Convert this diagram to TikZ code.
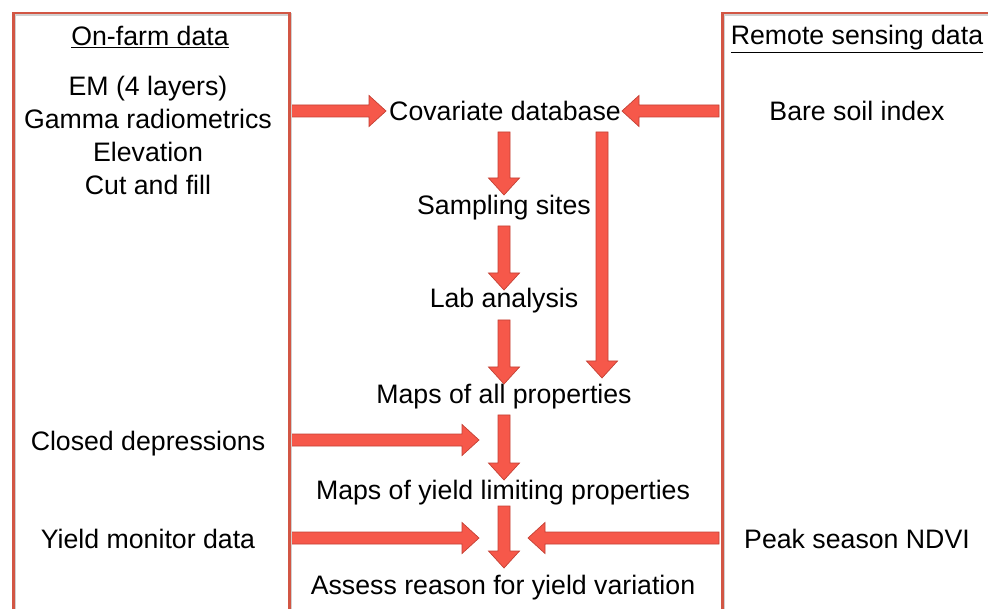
\documentclass[tikz,border=0pt]{standalone}
\usepackage{fontspec}
\setmainfont{Liberation Sans}
\usetikzlibrary{calc}
\definecolor{panelred}{RGB}{210,86,68}
\definecolor{arrowfill}{RGB}{246,88,74}
\definecolor{arrowline}{RGB}{196,64,52}
\tikzset{
  lbl/.style={anchor=base, inner sep=0pt, font=\fontsize{26.7}{32}\selectfont},
  panel/.style={draw=panelred, line width=2.5pt, inner sep=0pt,
    preaction={draw=black!18, line width=2.5pt, transform canvas={shift={(1.2pt,-1.2pt)}}}},
  blockarrow/.style={fill=arrowfill, draw=arrowline, line width=0.7pt, line join=miter},
}
\newcommand\barrow[2]{%
  \path[blockarrow] let \p1=(#1), \p2=(#2),
    \n1={atan2(\y2-\y1,\x2-\x1)}, \n2={veclen(\x2-\x1,\y2-\y1)} in
    [shift={(\p1)}, rotate=\n1]
    (0pt,-6pt) -- (\n2*1pt-17pt,-6pt) -- (\n2*1pt-17pt,-15.5pt) -- (\n2*1pt,0pt)
    -- (\n2*1pt-17pt,15.5pt) -- (\n2*1pt-17pt,6pt) -- (0pt,6pt) -- cycle;}
\begin{document}
\begin{tikzpicture}[x=1pt,y=-1pt]
\clip (0,0) rectangle (988,609);
\fill[white] (0,0) rectangle (988,609);

% text nodes
\node[lbl] (onfarm) at (150,46) {\underline{On-farm data}};
\node[lbl] (em) at (148,96) {EM (4 layers)};
\node[lbl] (gamma) at (148,129) {Gamma radiometrics};
\node[lbl] (elev) at (148,162) {Elevation};
\node[lbl] (cut) at (148,195) {Cut and fill};
\node[lbl] (closed) at (148,450) {Closed depressions};
\node[lbl] (yieldmon) at (148,548) {Yield monitor data};

\node[lbl] (remote) at (857,45) {\underline{Remote sensing data}};
\node[lbl] (bare) at (857,121) {Bare soil index};
\node[lbl] (ndvi) at (857,548) {Peak season NDVI};

\node[lbl] (cov) at (505,121) {Covariate database};
\node[lbl] (samp) at (504,215) {Sampling sites};
\node[lbl] (lab) at (504,308) {Lab analysis};
\node[lbl] (mapsall) at (504,404) {Maps of all properties};
\node[lbl] (mapsyield) at (503,499) {Maps of yield limiting properties};
\node[lbl] (assess) at (503,594) {Assess reason for yield variation};

% arrow end points
\coordinate (f1) at (289,111);   \coordinate (c1) at (386,111);
\coordinate (r1) at (719,111);   \coordinate (c2) at (622,111);
\coordinate (cs) at (504,132);   \coordinate (se) at (504,195);
\coordinate (ss) at (504,226);   \coordinate (le) at (504,290);
\coordinate (ls) at (504,320);   \coordinate (me) at (504,384);
\coordinate (ds) at (602,132);   \coordinate (de) at (602,378);
\coordinate (ms) at (504,415);   \coordinate (ye) at (504,480);
\coordinate (ys) at (504,506);   \coordinate (ae) at (504,568);
\coordinate (f2) at (289,440);   \coordinate (c3) at (479,440);
\coordinate (f3) at (289,538);   \coordinate (c4) at (479,538);
\coordinate (r2) at (719,538);   \coordinate (c5) at (528,538);

\barrow{f1}{c1}
\barrow{r1}{c2}
\barrow{cs}{se}
\barrow{ss}{le}
\barrow{ls}{me}
\barrow{ds}{de}
\barrow{ms}{ye}
\barrow{ys}{ae}
\barrow{f2}{c3}
\barrow{f3}{c4}
\barrow{r2}{c5}

% panels
\node[panel, anchor=north west, minimum width=276pt, minimum height=650pt] (farm) at (12,12) {};
\node[panel, anchor=north west, minimum width=300pt, minimum height=650pt] (sensing) at (721,12) {};
\end{tikzpicture}
\end{document}
